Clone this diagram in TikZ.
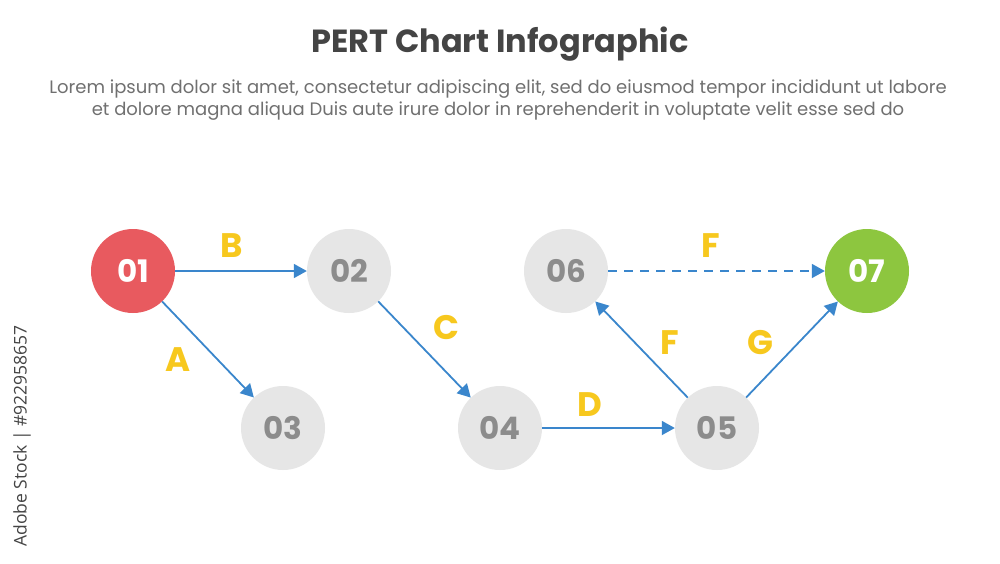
\documentclass[tikz,border=0pt]{standalone}
\usepackage{fontspec}
\setmainfont{Poppins}
\newfontfamily\sidefont{Open Sans}
\usetikzlibrary{arrows.meta}
\definecolor{redc}{HTML}{E85A5F}
\definecolor{greyc}{HTML}{E6E6E6}
\definecolor{greyt}{HTML}{8C8C8C}
\definecolor{greenc}{HTML}{8DC63F}
\definecolor{bluec}{HTML}{3A86CC}
\definecolor{yellowc}{HTML}{F7C81E}
\definecolor{titlec}{HTML}{444444}
\definecolor{subc}{HTML}{707070}
\tikzset{
  ev/.style={circle,minimum size=84pt,inner sep=0pt,fill=greyc,text=greyt,font=\fontsize{31}{33}\selectfont\bfseries},
  conn/.style={draw=bluec,line width=1.8pt,-{Triangle[length=13pt,width=14pt]}},
  lbl/.style={text=yellowc,font=\fontsize{34}{36}\selectfont\bfseries},
}
\begin{document}
\begin{tikzpicture}[x=1pt,y=-1pt]
\useasboundingbox[fill=white] (0,0) rectangle (1000,563);
\node[text=titlec,font=\fontsize{32}{36}\selectfont\bfseries] (title) at (500,44) {PERT Chart Infographic};
\node[text=subc,font=\fontsize{18}{22}\selectfont,align=center] (sub) at (498,100) {Lorem ipsum dolor sit amet, consectetur adipiscing elit, sed do eiusmod tempor incididunt ut labore\\et dolore magna aliqua Duis aute irure dolor in reprehenderit in voluptate velit esse sed do};
\node[text=titlec,font=\sidefont\fontsize{17.5}{19}\selectfont,rotate=90] (side) at (22,436) {Adobe Stock | \#922958657};
\node[ev,fill=redc,text=white] (n1) at (133,271) {01};
\node[ev] (n2) at (349,271) {02};
\node[ev] (n3) at (283,428) {03};
\node[ev] (n4) at (500,428) {04};
\node[ev] (n5) at (717,428) {05};
\node[ev] (n6) at (566,271) {06};
\node[ev,fill=greenc,text=white] (n7) at (867,271) {07};
\draw[conn] (n1) -- (n2);
\draw[conn] (n1) -- (n3);
\draw[conn] (n2) -- (n4);
\draw[conn] (n4) -- (n5);
\draw[conn] (n5) -- (n6);
\draw[conn] (n5) -- (n7);
\draw[conn,dash pattern=on 9pt off 7pt] (n6) -- (n7);
\node[lbl] (lB) at (232,246) {B};
\node[lbl] (lA) at (178,360) {A};
\node[lbl] (lC) at (446,328) {C};
\node[lbl] (lD) at (590,405) {D};
\node[lbl] (lF1) at (711,246) {F};
\node[lbl] (lF2) at (670,343) {F};
\node[lbl] (lG) at (760,343) {G};
\end{tikzpicture}
\end{document}
